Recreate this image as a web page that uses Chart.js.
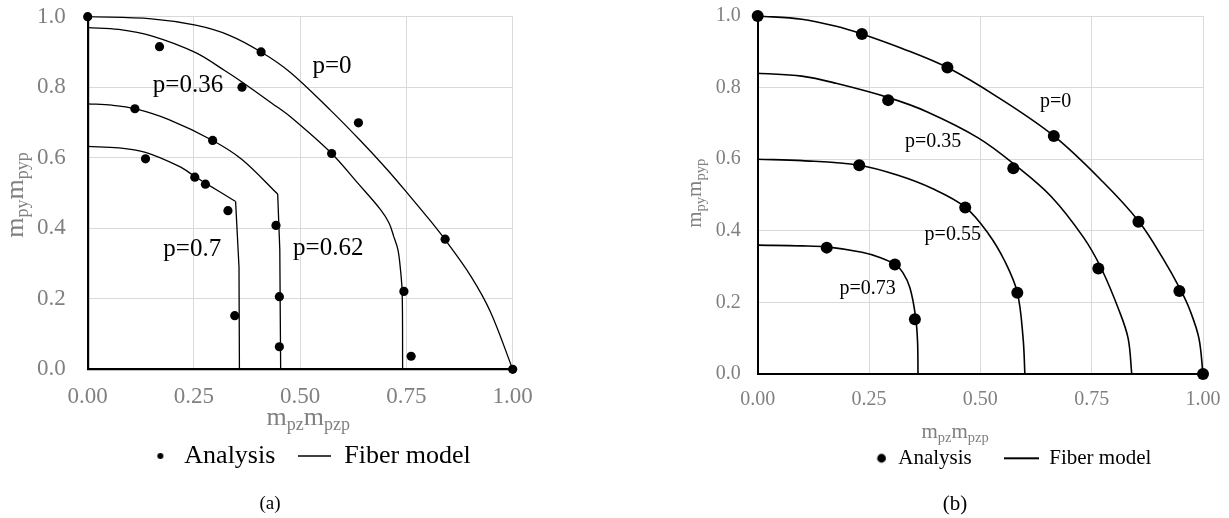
<!DOCTYPE html>
<html>
<head>
<meta charset="utf-8">
<script src="https://cdn.jsdelivr.net/npm/chart.js@4.4.1/dist/chart.umd.min.js"></script>
<style>
html,body{margin:0;padding:0;width:1229px;height:518px;overflow:hidden;background:#fff;}
body{position:relative;}
#wrapA{position:absolute;left:0;top:0;width:608px;height:518px;}
#wrapB{position:absolute;left:680px;top:0;width:644px;height:518px;}
.cap{position:absolute;font-family:'Liberation Serif','Times New Roman',serif;color:#000;text-align:center;width:100px;}
</style>
</head>
<body>
<div id="wrapA"><canvas id="chartA" width="608" height="518"></canvas></div>
<div id="wrapB"><canvas id="chartB" width="644" height="518"></canvas></div>
<div class="cap" style="left:220px;top:492px;font-size:19px;line-height:22px;">(a)</div>
<div class="cap" style="left:905px;top:492px;font-size:21px;line-height:22px;">(b)</div>
<script>
// ---------- shared labels / ticks ----------
const xTicks = [0, 0.25, 0.5, 0.75, 1.0];
const yTicks = [0, 0.2, 0.4, 0.6, 0.8, 1.0];
const legendLabels = ['Analysis', 'Fiber model'];
const xTitleParts = [['m', 0], ['pz', 1], ['m', 0], ['pzp', 1]];
const yTitleParts = [['m', 0], ['py', 1], ['m', 0], ['pyp', 1]];

// ---------- panel (a) ----------
const analysisA = [
  [0, 1.0], [0.169, 0.915], [0.408, 0.90], [0.363, 0.80], [0.637, 0.699], [0.574, 0.612],
  [0.841, 0.369], [0.744, 0.221], [0.761, 0.037], [1.0, 0],
  [0.111, 0.739], [0.294, 0.649], [0.443, 0.408], [0.451, 0.206], [0.451, 0.064],
  [0.136, 0.597], [0.252, 0.545], [0.277, 0.525], [0.330, 0.450], [0.346, 0.152]
];
const fiberA_p0 = [[0, 1.0], [0.15, 0.994], [0.254, 0.976], [0.332, 0.948], [0.408, 0.90], [0.477, 0.842],
  [0.571, 0.735], [0.642, 0.648], [0.705, 0.566], [0.756, 0.494], [0.807, 0.42], [0.840, 0.369],
  [0.901, 0.265], [0.948, 0.162], [1.0, 0]];
const fiberA_p036 = [[0, 0.969], [0.073, 0.964], [0.152, 0.945], [0.254, 0.898], [0.324, 0.846], [0.363, 0.815],
  [0.434, 0.754], [0.477, 0.716], [0.574, 0.612], [0.634, 0.53], [0.689, 0.453],
  [0.709, 0.415], [0.720, 0.377], [0.730, 0.339], [0.736, 0.282], [0.740, 0.216], [0.741, 0]];
const fiberA_p062 = [[0, 0.753], [0.057, 0.749], [0.111, 0.739], [0.191, 0.708], [0.294, 0.649], [0.363, 0.595],
  [0.447, 0.497], [0.452, 0.339], [0.454, 0]];
const fiberA_p07 = [[0, 0.632], [0.073, 0.628], [0.136, 0.615], [0.214, 0.576], [0.251, 0.548], [0.277, 0.528],
  [0.348, 0.476], [0.356, 0.29], [0.357, 0]];
const pLabelsA = ['p=0', 'p=0.36', 'p=0.62', 'p=0.7'];
const pLabelAtA = [[0.575, 0.86], [0.236, 0.805], [0.566, 0.344], [0.246, 0.339]];

// ---------- panel (b) ----------
const analysisB = [
  [0, 1.0], [0.234, 0.950], [0.426, 0.856], [0.665, 0.665], [0.855, 0.425], [0.947, 0.232], [1.0, 0],
  [0.293, 0.765], [0.574, 0.575], [0.765, 0.295],
  [0.228, 0.583], [0.466, 0.465], [0.583, 0.227],
  [0.155, 0.353], [0.308, 0.306], [0.353, 0.153]
];
const fiberB_p0 = [[0, 1.0], [0.099, 0.991], [0.174, 0.972], [0.234, 0.95], [0.323, 0.91], [0.426, 0.856],
  [0.537, 0.775], [0.665, 0.665], [0.775, 0.537], [0.856, 0.426], [0.91, 0.323], [0.95, 0.234],
  [0.972, 0.174], [0.991, 0.099], [1.0, 0]];
const fiberB_p035 = [[0, 0.84], [0.099, 0.832], [0.176, 0.812], [0.294, 0.772], [0.381, 0.732], [0.496, 0.659],
  [0.581, 0.581], [0.659, 0.496], [0.732, 0.381], [0.772, 0.294], [0.812, 0.176], [0.832, 0.099], [0.84, 0]];
const fiberB_p055 = [[0, 0.600], [0.1, 0.596], [0.228, 0.583], [0.315, 0.555], [0.392, 0.518], [0.466, 0.466],
  [0.518, 0.392], [0.555, 0.315], [0.583, 0.228], [0.596, 0.1], [0.600, 0]];
const fiberB_p073 = [[0, 0.36], [0.099, 0.358], [0.155, 0.355], [0.234, 0.34], [0.276, 0.325], [0.308, 0.306],
  [0.326, 0.283], [0.342, 0.24], [0.3545, 0.16], [0.359, 0.09], [0.36, 0]];
const pLabelsB = ['p=0', 'p=0.35', 'p=0.55', 'p=0.73'];
const pLabelAtB = [[0.669, 0.760], [0.394, 0.649], [0.438, 0.388], [0.247, 0.237]];

// ---------- drawing helpers ----------
const FAM = "'Liberation Serif', 'Times New Roman', serif";

function dotImage(w, h, cx, r) {
  const c = document.createElement('canvas'); c.width = w; c.height = h;
  const g = c.getContext('2d'); g.fillStyle = '#000';
  g.beginPath(); g.arc(cx, h / 2, r, 0, Math.PI * 2); g.fill();
  return c;
}
function lineImage(w, lw) {
  const c = document.createElement('canvas'); c.width = w; c.height = 4;
  const g = c.getContext('2d'); g.strokeStyle = '#000'; g.lineWidth = lw;
  g.beginPath(); g.moveTo(0, 2); g.lineTo(w, 2); g.stroke();
  return c;
}
function partsWidth(ctx, parts, size, sub) {
  let w = 0;
  for (const [t, s] of parts) { ctx.font = (s ? sub : size) + 'px ' + FAM; w += ctx.measureText(t).width; }
  return w;
}
function drawParts(ctx, parts, x, y, size, sub, shift) {
  ctx.textAlign = 'left'; ctx.textBaseline = 'alphabetic';
  let cx = x;
  for (const [t, s] of parts) {
    ctx.font = (s ? sub : size) + 'px ' + FAM;
    ctx.fillText(t, cx, s ? y + shift : y);
    cx += ctx.measureText(t).width;
  }
}

const annotPlugin = {
  id: 'annot',
  afterDraw(chart, args, o) {
    const ctx = chart.ctx, ca = chart.chartArea;
    const xs = chart.scales.x, ys = chart.scales.y;
    ctx.save();
    // curve labels
    ctx.fillStyle = '#000';
    ctx.font = o.labelSize + 'px ' + FAM;
    ctx.textAlign = 'center'; ctx.textBaseline = 'middle';
    o.labels.forEach((t, i) => {
      ctx.fillText(t, xs.getPixelForValue(o.at[i][0]), ys.getPixelForValue(o.at[i][1]));
    });
    // axis titles with subscripts
    ctx.fillStyle = '#808080';
    const tw = partsWidth(ctx, xTitleParts, o.titleSize, o.subSize);
    drawParts(ctx, xTitleParts, (ca.left + ca.right) / 2 + o.xdx - tw / 2, ca.bottom + o.xdy, o.titleSize, o.subSize, o.shift);
    const th = partsWidth(ctx, yTitleParts, o.titleSize, o.subSize);
    ctx.translate(ca.left - o.ydx, (ca.top + ca.bottom) / 2 + o.ydy);
    ctx.rotate(-Math.PI / 2);
    drawParts(ctx, yTitleParts, -th / 2, 0, o.titleSize, o.subSize, o.shift);
    ctx.restore();
  }
};

function makeChart(id, o) {
  const datasets = [{
    label: legendLabels[0],
    data: o.analysis.map(([x, y]) => ({x, y})),
    showLine: false, pointRadius: o.dotR, pointHoverRadius: o.dotR,
    backgroundColor: '#000', borderColor: '#000', borderWidth: 0, clip: false
  }];
  const lineDs = (pts, tension) => ({
    label: legendLabels[1],
    data: pts.map(([x, y]) => ({x, y})),
    showLine: true, pointRadius: 0, pointHoverRadius: 0,
    borderColor: '#000', backgroundColor: '#000', borderWidth: o.lineW,
    tension: tension, fill: false, clip: false, borderJoinStyle: 'round'
  });
  o.fibers.forEach((f, i) => {
    const k = o.knees[i];
    if (k == null) {
      datasets.push(lineDs(f, o.tension));
    } else {
      // smooth arc up to the knee, (almost) straight drop after it
      datasets.push(lineDs(f.slice(0, k + 1), o.tension));
      datasets.push(lineDs(f.slice(k), 0.001));
    }
  });
  const dot = dotImage(o.legBox, 12, o.legDotX, o.legDotR);
  const line = lineImage(o.legLineW, o.lineW + 0.2);
  return new Chart(document.getElementById(id), {
    type: 'scatter',
    data: {datasets},
    plugins: [annotPlugin],
    options: {
      responsive: false, maintainAspectRatio: false, animation: false, devicePixelRatio: 1,
      events: [],
      layout: {padding: {left: 0, right: 0, top: o.padTop, bottom: o.padBottom}},
      plugins: {
        tooltip: {enabled: false},
        title: {display: false},
        legend: {
          display: true, position: 'bottom',
          labels: {
            usePointStyle: true, pointStyleWidth: o.legBox, padding: o.legPad,
            color: '#000', font: {family: FAM, size: o.legSize},
            generateLabels: () => [
              {text: legendLabels[0], pointStyle: dot, fillStyle: '#000', strokeStyle: '#000', lineWidth: 0, hidden: false, datasetIndex: 0, fontColor: '#000'},
              {text: legendLabels[1], pointStyle: line, fillStyle: '#000', strokeStyle: '#000', lineWidth: 0, hidden: false, datasetIndex: 1, fontColor: '#000'}
            ]
          }
        },
        annot: {
          labels: o.pLabels, at: o.pAt, labelSize: o.labelSize,
          titleSize: o.titleSize, subSize: o.subSize, shift: o.shift,
          xdx: o.xdx, xdy: o.xdy, ydx: o.ydx, ydy: o.ydy
        }
      },
      scales: {
        x: {
          type: 'linear', position: 'bottom', min: 0, max: 1,
          afterBuildTicks: s => { s.ticks = xTicks.map(v => ({value: v})); },
          afterFit: s => { s.height = o.xH; s.paddingLeft = 0; s.paddingRight = 0; },
          grid: {color: '#d9d9d9', lineWidth: 1, drawTicks: false},
          border: {display: true, color: '#000', width: o.axisW},
          ticks: {padding: o.xPad, color: '#808080', font: {family: FAM, size: o.tickSize},
                  maxRotation: 0, autoSkip: false, callback: v => Number(v).toFixed(2)}
        },
        y: {
          type: 'linear', position: 'left', min: 0, max: 1,
          afterBuildTicks: s => { s.ticks = yTicks.map(v => ({value: v})); },
          afterFit: s => { s.width = o.yW; s.paddingTop = 0; s.paddingBottom = 0; },
          grid: {color: '#d9d9d9', lineWidth: 1, drawTicks: false},
          border: {display: true, color: '#000', width: o.axisW},
          ticks: {padding: o.yPad, color: '#808080', font: {family: FAM, size: o.tickSize},
                  autoSkip: false, callback: v => Number(v).toFixed(1)}
        },
        yR: {
          type: 'linear', position: 'right', display: true,
          grid: {display: false}, border: {display: false}, ticks: {display: false},
          afterFit: s => { s.width = o.rW; s.paddingTop = 0; s.paddingBottom = 0; }
        }
      }
    }
  });
}

makeChart('chartA', {
  analysis: analysisA,
  fibers: [fiberA_p0, fiberA_p036, fiberA_p062, fiberA_p07],
  knees: [null, null, 6, 6], tension: 0.35,
  pLabels: pLabelsA, pAt: pLabelAtA,
  dotR: 4.6, lineW: 1.3, axisW: 2.2,
  padTop: 16.7, padBottom: 39, xH: 51.7, yW: 87.7, rW: 95.3,
  tickSize: 23, xPad: 14, yPad: 22,
  legSize: 26, legBox: 34, legPad: 22, legDotX: 23, legDotR: 3, legLineW: 33,
  labelSize: 25, titleSize: 26, subSize: 18, shift: 5,
  xdx: 8, xdy: 55.7, ydx: 64.4, ydy: 2
});

makeChart('chartB', {
  analysis: analysisB,
  fibers: [fiberB_p0, fiberB_p035, fiberB_p055, fiberB_p073],
  knees: [null, null, null, null], tension: 0.35,
  pLabels: pLabelsB, pAt: pLabelAtB,
  dotR: 6, lineW: 1.6, axisW: 2,
  padTop: 16, padBottom: 39.2, xH: 41.8, yW: 77.7, rW: 121,
  tickSize: 20, xPad: 14, yPad: 17,
  legSize: 21, legBox: 35, legPad: 32, legDotX: 28.8, legDotR: 4.4, legLineW: 35,
  labelSize: 20, titleSize: 21, subSize: 14.5, shift: 4,
  xdx: -25.3, xdy: 64.3, ydx: 57, ydy: -1.7
});
</script>
</body>
</html>
